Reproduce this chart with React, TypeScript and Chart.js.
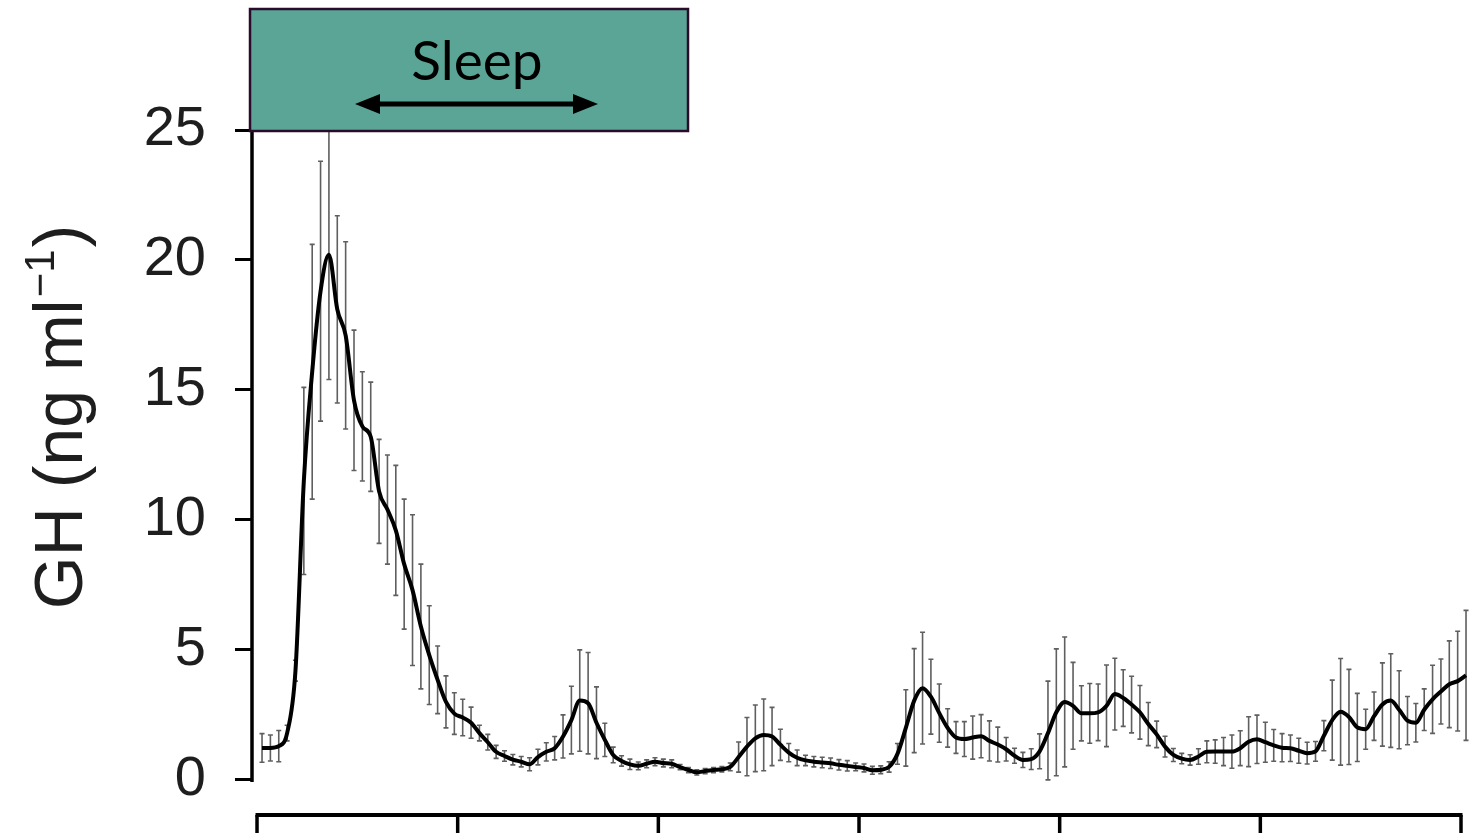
import React, { useEffect, useRef } from "react";
import { Chart, registerables } from "chart.js";

Chart.register(...registerables);

// Mean GH (ng/ml), sampled every 10 minutes
const GH_MEAN = [
  1.23, 1.23, 1.3, 1.8, 4.2, 11.5, 15.7, 18.8, 20.2, 18.1,
  17.1, 14.6, 13.6, 13.2, 11.1, 10.4, 9.6, 8.3, 7.3, 5.9,
  4.8, 3.85, 3.0, 2.55, 2.4, 2.2, 1.8, 1.45, 1.08, 0.92,
  0.78, 0.7, 0.6, 0.88, 1.08, 1.22, 1.67, 2.3, 3.05, 2.95,
  2.2, 1.54, 0.96, 0.73, 0.6, 0.54, 0.62, 0.7, 0.65, 0.62,
  0.49, 0.38, 0.29, 0.34, 0.38, 0.41, 0.5, 0.88, 1.28, 1.6,
  1.73, 1.67, 1.35, 1.05, 0.85, 0.75, 0.7, 0.67, 0.64, 0.58,
  0.54, 0.5, 0.46, 0.37, 0.39, 0.5, 1.0, 2.0, 3.05, 3.53,
  3.2, 2.57, 2.0, 1.63, 1.57, 1.63, 1.68, 1.5, 1.36, 1.18,
  0.93, 0.77, 0.8, 1.1, 1.8, 2.6, 3.0, 2.85, 2.56, 2.56,
  2.6, 2.85, 3.3, 3.15, 2.9, 2.6, 2.15, 1.75, 1.28, 0.96,
  0.82, 0.77, 0.9, 1.08, 1.09, 1.09, 1.09, 1.22, 1.47, 1.56,
  1.45, 1.33, 1.24, 1.22, 1.12, 1.03, 1.1, 1.7, 2.3, 2.62,
  2.42, 2.02, 1.95, 2.45, 2.9, 3.05, 2.7, 2.28, 2.2, 2.7,
  3.1, 3.4, 3.68, 3.8, 4.02,
];

// Standard error of the mean (ng/ml)
const GH_SEM = [
  0.55, 0.5, 0.6, 0.3, 0.4, 3.6, 4.9, 5.0, 4.8, 3.6,
  3.6, 2.7, 2.1, 2.1, 2.0, 2.1, 2.5, 2.5, 2.9, 2.4,
  1.9, 1.3, 1.0, 0.8, 0.7, 0.6, 0.3, 0.3, 0.25, 0.2,
  0.2, 0.2, 0.25, 0.3, 0.35, 0.45, 0.83, 1.3, 1.95, 1.95,
  1.38, 0.64, 0.3, 0.2, 0.2, 0.15, 0.15, 0.15, 0.15, 0.15,
  0.1, 0.1, 0.1, 0.1, 0.1, 0.1, 0.15, 0.58, 1.12, 1.28,
  1.38, 1.12, 0.6, 0.35, 0.3, 0.2, 0.2, 0.2, 0.2, 0.2,
  0.2, 0.15, 0.15, 0.15, 0.15, 0.2, 0.4, 1.47, 2.0, 2.15,
  1.44, 1.12, 0.74, 0.61, 0.67, 0.83, 0.83, 0.77, 0.67, 0.45,
  0.29, 0.29, 0.4, 0.67, 2.0, 2.44, 2.5, 1.67, 1.06, 1.15,
  1.09, 1.57, 1.38, 1.09, 1.09, 1.03, 0.83, 0.51, 0.4, 0.25,
  0.2, 0.2, 0.3, 0.42, 0.45, 0.54, 0.64, 0.67, 0.96, 0.93,
  0.77, 0.61, 0.54, 0.51, 0.48, 0.42, 0.38, 0.58, 1.54, 2.05,
  1.83, 1.31, 0.77, 0.93, 1.6, 1.8, 1.5, 0.93, 0.74, 0.8,
  1.31, 1.25, 1.67, 1.92, 2.5,
];

const FIRST_SAMPLE_HOUR = 0.1;
const SAMPLE_STEP_HOURS = 10 / 60;
const X_TICKS = [0, 4, 8, 12, 16, 20, 24];
const Y_TICKS = [0, 5, 10, 15, 20, 25];
const Y_TITLE_MAIN = "GH (ng ml";
const Y_TITLE_SUP = "\u22121";
const Y_TITLE_END = ")";
const BOX_LABEL = "Sleep";

const FONT = "'Liberation Sans', Arial, Helvetica, sans-serif";

export default function App() {
  const canvasRef = useRef<HTMLCanvasElement | null>(null);

  useEffect(() => {
    const canvas = canvasRef.current;
    if (!canvas) return;
    const times = GH_MEAN.map((_, i) => FIRST_SAMPLE_HOUR + i * SAMPLE_STEP_HOURS);
    const points = GH_MEAN.map((v, i) => ({ x: times[i], y: v }));

    const errorBars = {
      id: "errorBars",
      beforeDatasetsDraw(chart: any) {
        const { ctx, scales } = chart;
        const x = scales.x;
        const y = scales.y;
        ctx.save();
        ctx.strokeStyle = "#5f5f5f";
        ctx.lineWidth = 1.6;
        GH_MEAN.forEach((m, i) => {
          const px = x.getPixelForValue(times[i]);
          const top = y.getPixelForValue(m + GH_SEM[i]);
          const bot = y.getPixelForValue(Math.max(0, m - GH_SEM[i]));
          ctx.beginPath();
          ctx.moveTo(px, top);
          ctx.lineTo(px, bot);
          ctx.moveTo(px - 2.5, top);
          ctx.lineTo(px + 2.5, top);
          ctx.moveTo(px - 2.5, bot);
          ctx.lineTo(px + 2.5, bot);
          ctx.stroke();
        });
        ctx.restore();
      },
    };

    const decorations = {
      id: "decorations",
      afterDraw(chart: any) {
        const { ctx, scales, chartArea } = chart;
        const x = scales.x;
        const y = scales.y;
        ctx.save();
        // y axis line
        ctx.strokeStyle = "#000";
        ctx.lineWidth = 3.5;
        ctx.beginPath();
        ctx.moveTo(chartArea.left, y.getPixelForValue(25) - 1);
        ctx.lineTo(chartArea.left, y.getPixelForValue(0) + 2);
        ctx.stroke();
        // x axis (offset below zero)
        const xb = chartArea.bottom;
        ctx.lineWidth = 4;
        ctx.beginPath();
        ctx.moveTo(x.getPixelForValue(X_TICKS[0]) - 1.5, xb);
        ctx.lineTo(x.getPixelForValue(X_TICKS[X_TICKS.length - 1]) + 1.5, xb);
        ctx.stroke();
        ctx.lineWidth = 3.5;
        X_TICKS.forEach((t) => {
          const px = x.getPixelForValue(t);
          ctx.beginPath();
          ctx.moveTo(px, xb);
          ctx.lineTo(px, xb + 18);
          ctx.stroke();
        });

        // y title (rotated, with superscript)
        ctx.fillStyle = "#1e1e1e";
        ctx.textBaseline = "alphabetic";
        ctx.textAlign = "left";
        const mainFont = `68px ${FONT}`;
        const supFont = `42px ${FONT}`;
        ctx.font = mainFont;
        const w1 = ctx.measureText(Y_TITLE_MAIN).width;
        const w3 = ctx.measureText(Y_TITLE_END).width;
        ctx.font = supFont;
        const w2 = ctx.measureText(Y_TITLE_SUP).width;
        const total = w1 + w2 + w3 + 4;
        ctx.translate(82, 417);
        ctx.rotate(-Math.PI / 2);
        const sx = -total / 2;
        ctx.font = mainFont;
        ctx.fillText(Y_TITLE_MAIN, sx, 0);
        ctx.font = supFont;
        ctx.fillText(Y_TITLE_SUP, sx + w1 + 2, -28);
        ctx.font = mainFont;
        ctx.fillText(Y_TITLE_END, sx + w1 + w2 + 4, 0);
        ctx.restore();

        // Sleep box
        ctx.save();
        ctx.fillStyle = "#5ba597";
        ctx.fillRect(250, 9, 438, 122);
        ctx.strokeStyle = "#2a0c2a";
        ctx.lineWidth = 2.5;
        ctx.strokeRect(250, 9, 438, 122);
        ctx.fillStyle = "#000";
        ctx.font = "55px Lato, 'Open Sans', sans-serif";
        ctx.textAlign = "center";
        ctx.textBaseline = "alphabetic";
        ctx.fillText(BOX_LABEL, 477, 80);
        // double arrow
        const ay = 104;
        ctx.strokeStyle = "#000";
        ctx.lineWidth = 5;
        ctx.beginPath();
        ctx.moveTo(372, ay);
        ctx.lineTo(581, ay);
        ctx.stroke();
        ctx.beginPath();
        ctx.moveTo(355, ay);
        ctx.lineTo(380, ay - 10);
        ctx.lineTo(380, ay + 10);
        ctx.closePath();
        ctx.fill();
        ctx.beginPath();
        ctx.moveTo(598, ay);
        ctx.lineTo(573, ay - 10);
        ctx.lineTo(573, ay + 10);
        ctx.closePath();
        ctx.fill();
        ctx.restore();
      },
    };

    const chart = new Chart(canvas, {
      type: "line",
      data: {
        datasets: [
          {
            data: points,
            borderColor: "#000",
            borderWidth: 4,
            pointRadius: 0,
            cubicInterpolationMode: "monotone",
            clip: false as any,
          },
        ],
      },
      options: {
        animation: false,
        responsive: false,
        devicePixelRatio: 1,
        layout: { padding: { top: 130, right: 12, bottom: 25, left: 0 } },
        plugins: { legend: { display: false }, tooltip: { enabled: false } },
        scales: {
          x: {
            type: "linear",
            min: -0.1,
            max: 24,
            display: false,
          },
          y: {
            type: "linear",
            min: -1.35,
            max: 25,
            afterBuildTicks: (scale: any) => {
              scale.ticks = Y_TICKS.map((v) => ({ value: v }));
            },
            afterFit: (scale: any) => {
              scale.width = 252;
              scale.paddingTop = 0;
              scale.paddingBottom = 0;
            },
            border: { display: false },
            grid: {
              drawOnChartArea: false,
              drawTicks: true,
              tickLength: 17,
              color: "#000",
              lineWidth: 3,
            },
            ticks: {
              padding: 29,
              color: "#1e1e1e",
              font: { family: FONT, size: 56 },
            },
          },
        },
      },
      plugins: [errorBars, decorations],
    } as any);

    return () => chart.destroy();
  }, []);

  return (
    <div style={{ position: "absolute", left: 0, top: 0, width: 1473, height: 840, background: "#fff" }}>
      <canvas ref={canvasRef} width={1473} height={840} style={{ display: "block" }} />
    </div>
  );
}
